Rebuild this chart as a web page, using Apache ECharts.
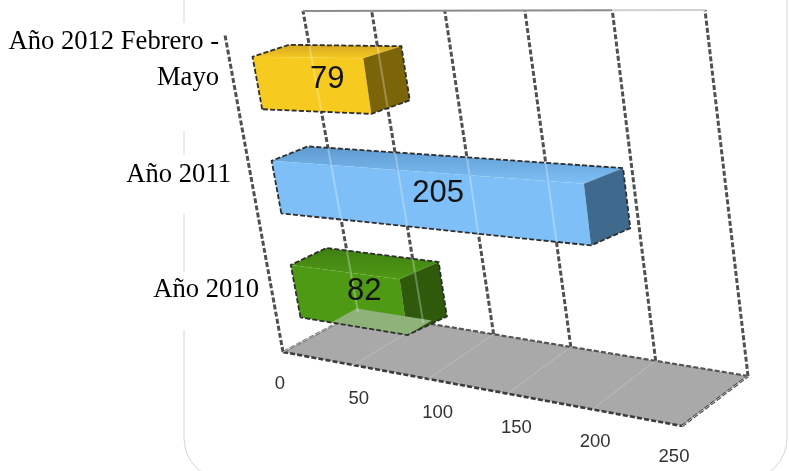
<!DOCTYPE html>
<html><head><meta charset="utf-8">
<style>html,body{margin:0;padding:0;background:#fff}#c{width:789px;height:471px}</style>
<script src="https://cdn.jsdelivr.net/npm/echarts@6/dist/echarts.min.js"></script>
</head><body><div id="c"></div>
<script>
// ---- data ----
const categories = ['Año 2010', 'Año 2011', 'Año 2012 Febrero -\nMayo'];
const values = [82, 205, 79];
const valueTicks = [0, 50, 100, 150, 200, 250];

// ---- look ----
const barColors = [
  {front:'#4f9a14', top:'#3f7f12', side:'#2f5a0c', under:'#8fb27a'},
  {front:'#7dbff6', top:'#5f9bcf', side:'#3f6a8e', under:null},
  {front:'#f6ca1e', top:'#d4a926', side:'#7c6408', under:null}
];
const labelPad = [0, 28, 40];

// Camera: the four corners of the floor and of the ceiling of the box, in page pixels.
const floorQuad = [[283,352],[682,426],[748,376],[358,312]];
const ceilQuad  = [[225,35],[635,35],[705,10],[303,11]];
function homography(q){
  const [p0,p1,p2,p3]=q;
  const dx1=p1[0]-p2[0],dx2=p3[0]-p2[0],sx=p0[0]-p1[0]+p2[0]-p3[0];
  const dy1=p1[1]-p2[1],dy2=p3[1]-p2[1],sy=p0[1]-p1[1]+p2[1]-p3[1];
  const det=dx1*dy2-dx2*dy1;
  const g=(sx*dy2-dx2*sy)/det,h=(dx1*sy-sx*dy1)/det;
  const a=p1[0]-p0[0]+g*p1[0],b=p3[0]-p0[0]+h*p3[0],c=p0[0];
  const d=p1[1]-p0[1]+g*p1[1],e=p3[1]-p0[1]+h*p3[1],f=p0[1];
  return (u,v)=>{const w=g*u+h*v+1;return [(a*u+b*v+c)/w,(d*u+e*v+f)/w];};
}
const floorH=homography(floorQuad), ceilH=homography(ceilQuad);
function project(u0,v,w){
  const u=u0-(0.02+0.02*w)*Math.sin(Math.PI*u0)*v;
  const a=floorH(u,v),b=ceilH(u,v);
  return [a[0]+(b[0]-a[0])*w,a[1]+(b[1]-a[1])*w];
}
const GRID={left:263,top:2.5,width:440,height:345};
const toU=px=>(px-GRID.left)/GRID.width;
const toW=py=>(GRID.top+GRID.height-py)/GRID.height;
const V_FRONT=0.28,V_BACK=0.75;
const BAR_H=0.168, BAR_DROP=0.009, FRONT_INSET=0.025, BACK_INSET=0.003;
const DASH=[5,2.2];

function poly(points,fill){return {type:'polygon',shape:{points},style:{fill,stroke:null}};}
function line(a,b,stroke,width,dash){
  return {type:'line',shape:{x1:a[0],y1:a[1],x2:b[0],y2:b[1]},
    style:{stroke,lineWidth:width,lineDash:dash||null,fill:null}};
}
function polyline(pts,stroke,width,dash){
  return {type:'polyline',shape:{points:pts},style:{stroke,lineWidth:width,lineDash:dash||null,fill:null}};
}
// part of segment a-b inside a convex polygon, or null
function clipToPolygon(a,b,pts){
  let area=0;
  pts.forEach((p,i)=>{const q=pts[(i+1)%pts.length];area+=p[0]*q[1]-q[0]*p[1];});
  const s=area>0?1:-1;
  let t0=0,t1=1;
  for(let i=0;i<pts.length;i++){
    const p=pts[i],q=pts[(i+1)%pts.length];
    const nx=-(q[1]-p[1])*s,ny=(q[0]-p[0])*s;
    const num=nx*(a[0]-p[0])+ny*(a[1]-p[1]);
    const den=nx*(b[0]-a[0])+ny*(b[1]-a[1]);
    if(den===0){if(num<0)return null;continue;}
    const t=-num/den;
    if(den>0)t0=Math.max(t0,t);else t1=Math.min(t1,t);
    if(t0>=t1)return null;
  }
  const at=t=>[a[0]+(b[0]-a[0])*t,a[1]+(b[1]-a[1])*t];
  return [at(t0),at(t1)];
}

function renderWall(params,api){
  const u=toU(api.coord([api.value(0),0])[0]);
  return line(project(u,1,0),project(u,1,1),'#505050',3,[5,2.2]);
}
function renderFloorGrid(params,api){
  const u=toU(api.coord([api.value(0),0])[0]);
  return line(project(u,0,0),project(u,1,0),'#bcbcbc',1);
}
function renderFloor(params,api){
  const u0=toU(api.coord([valueTicks[0],0])[0]);
  const u1=toU(api.coord([valueTicks[valueTicks.length-1],0])[0]);
  const um=toU(api.coord([valueTicks[4],0])[0]);
  const a=project(u0,0,0),b=project(u1,0,0),c=project(u1,1,0),d=project(u0,1,0);
  const e=project(u0,0,1),f=project(u0,1,1),g=project(u1,1,1),m=project(um,1,1);
  return {type:'group',children:[
    poly([a,b,c,d],'#a9a9a9'),
    line(a,b,'#3c3c3c',2.6,DASH),
    line(b,c,'#444',2.6,DASH),
    line(c,d,'#555',2.2,DASH),
    line(d,a,'#666',2.2,DASH),
    line(a,e,'#505050',3,DASH),
    line(f,m,'#8c8c8c',2.2),
    line(m,g,'#cfcfcf',2)
  ]};
}
function renderBar(params,api){
  const cat=api.value(1), val=api.value(0);
  const base=api.coord([0,cat]), end=api.coord([val,cat]);
  const u0=toU(base[0]), uEnd=toU(end[0]);
  const uf=uEnd-FRONT_INSET, ub=uEnd-BACK_INSET;
  const wc=toW(base[1])-BAR_DROP;
  const w0=wc-BAR_H/2,w1=wc+BAR_H/2;
  const vf=V_FRONT,vb=V_BACK;
  const c=barColors[params.dataIndex];
  const FTL=project(u0,vf,w1),FTR=project(uf,vf,w1),FBR=project(uf,vf,w0),FBL=project(u0,vf,w0);
  const BTL=project(u0,vb,w1),BTR=project(ub,vb,w1),BBR=project(ub,vb,w0);
  const kids=[
    poly([FTL,BTL,BTR,FTR],{type:'linear',x:0,y:0,x2:0,y2:1,colorStops:[{offset:0,color:c.top},{offset:1,color:c.front}]}),
    poly([FTL,FTR,FBR,FBL],c.front),
    poly([FTR,BTR,BBR,FBR],c.side)
  ];
  if(c.under){
    // underside showing through the floor for the lowest bar
    kids.push(poly([project(u0+0.09,vf,w0),project(u0+0.06,vb,w0-0.02),project(ub-0.045,vb,w0-0.02),FBR],c.under));
  }
  // gridlines seen through the bar
  const outline=[FBL,FTL,BTL,BTR,BBR,FBR];
  valueTicks.forEach(function(t){
    const ut=toU(api.coord([t,cat])[0]);
    const seg=clipToPolygon(project(ut,1,0),project(ut,1,1),outline);
    if(seg)kids.push(line(seg[0],seg[1],'rgba(255,255,255,0.28)',2));
  });
  kids.push(polyline([FBL,FTL,BTL,BTR,BBR,FBR,FBL],'#2e2e2e',1.8,DASH));
  return {type:'group',children:kids};
}
function renderValueLabel(params,api){
  const cat=api.value(1), val=api.value(0);
  const base=api.coord([0,cat]), end=api.coord([val,cat]);
  const u=(toU(base[0])+toU(end[0])-FRONT_INSET)/2;
  const p=project(u,0.5,toW(base[1])-BAR_DROP);
  return {type:'text',x:p[0],y:p[1]+1,style:{text:String(val),fill:'#111',
    font:'31px "Liberation Sans"',align:'center',verticalAlign:'middle'}};
}
function renderTickLabel(params,api){
  const val=api.value(0);
  const u=toU(api.coord([val,0])[0]);
  return {type:'text',x:280+394*u,y:384+73*u,style:{text:String(val),fill:'#333',
    font:'18.5px "Liberation Sans"',align:'center',verticalAlign:'middle'}};
}

const tickData=valueTicks.map(t=>[t]);
const barData=values.map((v,i)=>[v,i]);
const chart=echarts.init(document.getElementById('c'),null,{renderer:'canvas'});
const rich={};
labelPad.forEach((p,i)=>{rich['c'+i]={fontFamily:'Liberation Serif',fontSize:26.6,color:'#000',lineHeight:36,padding:[0,p,0,0],align:'right'};});
chart.setOption({
  animation:false,
  backgroundColor:'#fff',
  graphic:[
    {type:'rect',silent:true,z:-10,shape:{x:184,y:-60,width:603,height:540,r:42},style:{fill:'#fff',stroke:'#d6d6d6',lineWidth:1}},
    {type:'rect',silent:true,z:-9,shape:{x:170,y:23,width:30,height:108},style:{fill:'#fff'}},
    {type:'rect',silent:true,z:-9,shape:{x:170,y:155,width:30,height:59},style:{fill:'#fff'}},
    {type:'rect',silent:true,z:-9,shape:{x:170,y:272,width:30,height:58},style:{fill:'#fff'}}
  ],
  grid:{left:GRID.left,top:GRID.top,width:GRID.width,height:GRID.height,containLabel:false},
  xAxis:{type:'value',min:0,max:250,interval:50,show:false},
  yAxis:{type:'category',data:categories,axisLine:{show:false},axisTick:{show:false},splitLine:{show:false},
    axisLabel:{margin:4,interval:0,
      formatter:function(v){
        const i=categories.indexOf(v);
        return v.split('\n').map(s=>'{c'+i+'|'+s+'}').join('\n');
      },rich:rich}},
  series:[
    {type:'custom',coordinateSystem:'cartesian2d',z:1,data:tickData,renderItem:renderWall,silent:true,clip:false},
    {type:'custom',coordinateSystem:'cartesian2d',z:2,data:[[0]],renderItem:renderFloor,silent:true,clip:false},
    {type:'custom',coordinateSystem:'cartesian2d',z:3,data:tickData,renderItem:renderFloorGrid,silent:true,clip:false},
    {type:'custom',coordinateSystem:'cartesian2d',z:4,data:barData,renderItem:renderBar,silent:true,clip:false,encode:{x:0,y:1}},
    {type:'custom',coordinateSystem:'cartesian2d',z:5,data:barData,renderItem:renderValueLabel,silent:true,clip:false,encode:{x:0,y:1}},
    {type:'custom',coordinateSystem:'cartesian2d',z:5,data:tickData,renderItem:renderTickLabel,silent:true,clip:false}
  ]
});
</script></body></html>
